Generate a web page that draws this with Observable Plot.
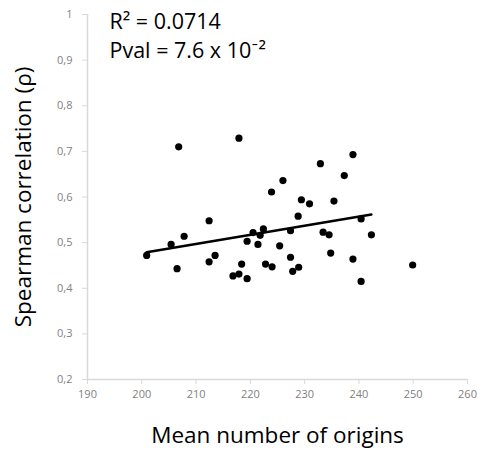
<!DOCTYPE html>
<html>
<head>
<meta charset="utf-8">
<script src="https://cdn.jsdelivr.net/npm/d3@7"></script>
<script src="https://cdn.jsdelivr.net/npm/@observablehq/plot@0.6"></script>
<style>
  html, body { margin: 0; padding: 0; background: #fff; }
  #chart svg { display: block; }
</style>
</head>
<body>
<div id="chart"></div>
<script>
// Mean number of origins per sample (x) and Spearman correlation rho (y)
const originsMean = [
  200.9, 205.4, 206.5, 206.8, 207.8, 212.4, 212.4, 213.5, 216.8, 217.9,
  217.9, 218.4, 219.4, 219.4, 220.5, 221.4, 221.8, 222.4, 222.8, 224.0,
  223.9, 225.4, 226.0, 227.4, 227.4, 227.8, 228.8, 228.9, 229.4, 230.9,
  232.9, 233.4, 234.5, 234.8, 235.4, 237.3, 238.9, 238.9, 240.4, 240.4,
  242.3, 249.9
];
const spearmanRho = [
  0.472, 0.496, 0.443, 0.710, 0.514, 0.548, 0.458, 0.472, 0.427, 0.431,
  0.729, 0.453, 0.503, 0.421, 0.522, 0.496, 0.516, 0.530, 0.453, 0.447,
  0.611, 0.493, 0.636, 0.526, 0.468, 0.437, 0.558, 0.446, 0.594, 0.585,
  0.673, 0.523, 0.517, 0.477, 0.591, 0.647, 0.693, 0.464, 0.552, 0.415,
  0.517, 0.451
];
// linear trend: rho = intercept + slope * origins, over the fitted x range
const trendSlope = 0.0020;
const trendIntercept = 0.077;
const trendRange = [200.9, 242.3];

const xTicks = [190, 200, 210, 220, 230, 240, 250, 260];
const yTicks = [0.2, 0.3, 0.4, 0.5, 0.6, 0.7, 0.8, 0.9, 1];
const statR2 = "R² = 0.0714";
const statPval = "Pval = 7.6 x 10⁻²";
const xTitle = "Mean number of origins";
const yTitle = "Spearman correlation (ρ)";

const points = originsMean.map((x, i) => ({x, y: spearmanRho[i]}));
const trend = trendRange.map(x => ({x, y: trendIntercept + trendSlope * x}));
const commaDecimal = d => d3.format("~g")(d).replace(".", ",");

const font = "'Open Sans', Lato, sans-serif";
const tickGray = "#7f7f7f";
const axisGray = "#d9d9d9";

const chart = Plot.plot({
  width: 478,
  height: 453,
  marginLeft: 87,
  marginRight: 11,
  marginTop: 14,
  marginBottom: 74,
  style: {fontFamily: font, background: "#fff"},
  x: {domain: [190, 260]},
  y: {domain: [0.2, 1]},
  marks: [
    Plot.ruleX([190], {stroke: axisGray, strokeWidth: 1.5}),
    Plot.ruleY([0.2], {stroke: axisGray, strokeWidth: 1.5}),
    Plot.axisX({ticks: xTicks, tickSize: 5, tickPadding: 6, stroke: axisGray,
      fill: tickGray, fontSize: 11, label: null}),
    Plot.axisY({ticks: yTicks, tickSize: 5, tickPadding: 10, stroke: axisGray,
      fill: tickGray, fontSize: 11, tickFormat: commaDecimal, label: null}),
    Plot.line(trend, {x: "x", y: "y", stroke: "#000", strokeWidth: 2.5}),
    Plot.dot(points, {x: "x", y: "y", r: 3.6, fill: "#000", stroke: "none"}),
    Plot.text([xTitle], {frameAnchor: "bottom", dy: 63, fontSize: 22.5, fill: "#000",
      lineAnchor: "bottom", text: d => d}),
    Plot.text([yTitle], {frameAnchor: "left", dx: -64, rotate: -90, fontSize: 22.5,
      textAnchor: "middle", fill: "#000", text: d => d}),
    Plot.text([statR2], {frameAnchor: "top-left", dx: 22, dy: 14,
      textAnchor: "start", lineAnchor: "bottom", fontSize: 21.5, fill: "#000", text: d => d}),
    Plot.text([statPval], {frameAnchor: "top-left", dx: 22, dy: 43,
      textAnchor: "start", lineAnchor: "bottom", fontSize: 21.5, fill: "#000", text: d => d}),
  ]
});

document.getElementById("chart").appendChild(chart);
</script>
</body>
</html>
